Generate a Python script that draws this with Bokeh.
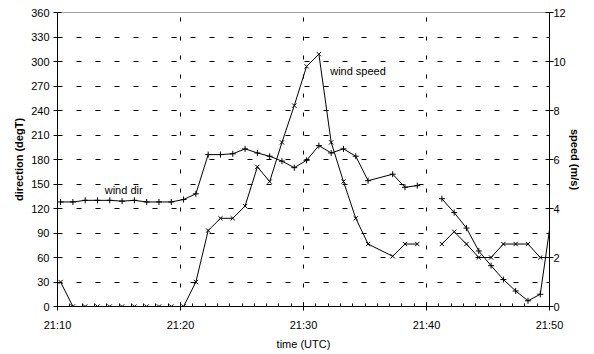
from bokeh.plotting import figure
from bokeh.models import Range1d, LinearAxis, FixedTicker, Label, Grid
from bokeh.embed import file_html
from bokeh.resources import INLINE

nan = float("nan")

# minutes after 21:00 of each observation
minutes = [10.25, 11.25, 12.25, 13.25, 14.25, 15.25, 16.25, 17.25, 18.25, 19.25,
           20.25, 21.25, 22.25, 23.25, 24.25, 25.25, 26.25, 27.25, 28.25, 29.25,
           30.25, 31.25, 32.25, 33.25, 34.25, 35.25, 37.25, 38.25, 39.25, 40.25,
           41.25, 42.25, 43.25, 44.25, 45.25, 46.25, 47.25, 48.25, 49.25, 50.25]

wind_speed = [1.0, 0, 0, 0, 0, 0, 0, 0, 0, 0,
              0, 1.0, 3.1, 3.6, 3.6, 4.1, 5.7, 5.1, 6.7, 8.2,
              9.8, 10.3, 6.7, 5.1, 3.6, 2.55, 2.05, 2.55, 2.55, nan,
              2.55, 3.05, 2.55, 2.0, 2.0, 2.55, 2.55, 2.55, 2.0, 2.0]

wind_dir = [128, 128, 130, 130, 130, 129, 130, 128, 128, 128,
            131, 138, 186, 186, 187, 193, 188, 184, 178, 170,
            179, 197, 188, 193, 184, 154, 162, 146, 148, nan,
            132, 115, 96, 68, 50, 33, 19, 7, 15, 120]

x_tick_values = [10, 20, 30, 40, 50]
x_tick_labels = ["21:10", "21:20", "21:30", "21:40", "21:50"]
dir_ticks = list(range(0, 361, 30))
speed_ticks = list(range(0, 13, 2))

FONT = "Liberation Sans"

p = figure(frame_width=492, frame_height=294, output_backend="svg", toolbar_location=None,
           x_range=Range1d(10, 50), y_range=Range1d(0, 360),
           min_border_left=57, min_border_right=45, min_border_top=12,
           min_border_bottom=48, background_fill_color="white",
           border_fill_color="white", x_axis_type=None, y_axis_type=None)
p.outline_line_color = "#a0a0a0"
p.extra_y_ranges = {"speed": Range1d(0, 12)}

# x axis
xa = LinearAxis(ticker=FixedTicker(ticks=x_tick_values,
                                   minor_ticks=[m for m in range(11, 50) if m % 10]))
xa.major_label_overrides = {v: l for v, l in zip(x_tick_values, x_tick_labels)}
xa.axis_label = "time (UTC)"
p.add_layout(xa, "below")

# left axis
ya = LinearAxis(ticker=FixedTicker(ticks=dir_ticks))
ya.axis_label = "direction (degT)"
p.add_layout(ya, "left")

# right axis
ra = LinearAxis(y_range_name="speed",
                ticker=FixedTicker(ticks=speed_ticks, minor_ticks=list(range(1, 12, 2))))
ra.axis_label = "speed (m/s)"
p.add_layout(ra, "right")

for ax in (xa, ya, ra):
    ax.axis_line_color = "black"
    ax.axis_line_width = 1
    ax.major_tick_line_color = "black"
    ax.minor_tick_line_color = "black"
    ax.major_tick_in = 4
    ax.major_tick_out = 4
    ax.minor_tick_in = 3
    ax.minor_tick_out = 0
    ax.major_label_text_font = FONT
    ax.major_label_text_font_size = "11px"
    ax.major_label_text_color = "black"
    ax.axis_label_text_font = FONT
    ax.axis_label_text_font_size = "11px"
    ax.axis_label_text_color = "black"
    ax.axis_label_text_font_style = "bold"
xa.axis_label_text_font_style = "normal"
xa.major_label_standoff = 8
xa.axis_label_standoff = 4
ya.major_label_standoff = 4
ya.axis_label_standoff = 3
ra.major_label_standoff = 0
ra.axis_label_standoff = 0

# grids
p.xgrid.visible = False
p.ygrid.visible = False
hg = Grid(dimension=1, ticker=FixedTicker(ticks=dir_ticks[1:-1]),
          grid_line_color="black", grid_line_dash="5 14", grid_line_width=1)
vg = Grid(dimension=0, ticker=FixedTicker(ticks=x_tick_values[1:-1]),
          grid_line_color="black", grid_line_dash="4 15", grid_line_width=1)
p.add_layout(hg)
p.add_layout(vg)

# series
p.line(minutes, wind_dir, line_color="black", line_width=1)
p.scatter(minutes, wind_dir, marker="cross", size=6, line_color="black", line_width=1)
p.line(minutes, wind_speed, line_color="black", line_width=1, y_range_name="speed")
p.scatter(minutes, wind_speed, marker="x", size=6, line_color="black", line_width=1,
          y_range_name="speed")

p.add_layout(Label(x=32.17, y=288, text="wind speed", text_font=FONT,
                   text_font_size="11px", text_color="black", text_baseline="middle"))
p.add_layout(Label(x=13.84, y=143, text="wind dir", text_font=FONT,
                   text_font_size="11px", text_color="black", text_baseline="middle"))

open("out.html", "w").write(file_html(p, INLINE))
